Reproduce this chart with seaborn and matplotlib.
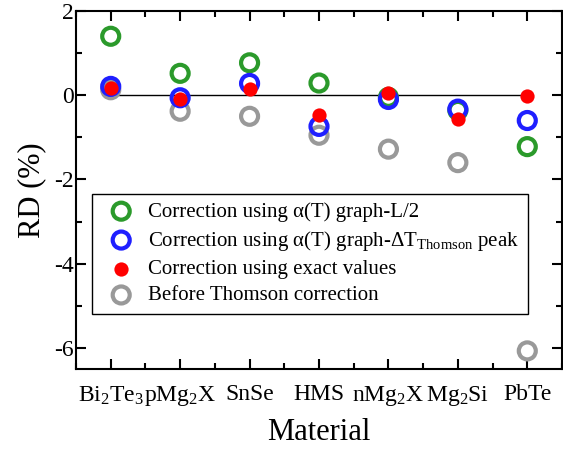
import numpy as np
import pandas as pd
import matplotlib
matplotlib.use('Agg')
import matplotlib.pyplot as plt
import seaborn as sns

# Relative deviation of each material
materials = [r'Bi$_2$Te$_3$', r'pMg$_2$X', 'SnSe', 'HMS', r'nMg$_2$X', r'Mg$_2$Si', 'PbTe']
rd_half_length = [1.40, 0.52, 0.77, 0.29, -0.05, -0.36, -1.22]
rd_thomson_peak = [0.21, -0.06, 0.28, -0.74, -0.10, -0.33, -0.60]
rd_exact = [0.17, -0.10, 0.14, -0.48, 0.06, -0.57, -0.02]
rd_before = [0.13, -0.38, -0.50, -0.95, -1.28, -1.60, -6.07]

sns.set_style('ticks')
plt.rcParams['font.family'] = ['Liberation Serif', 'DejaVu Serif']
plt.rcParams['mathtext.fontset'] = 'custom'
plt.rcParams['mathtext.rm'] = 'Liberation Serif'
plt.rcParams['mathtext.it'] = 'Liberation Serif:italic'
plt.rcParams['axes.unicode_minus'] = False
for key in ['text.color', 'axes.labelcolor', 'xtick.color', 'ytick.color', 'axes.edgecolor']:
    plt.rcParams[key] = 'black'

fig = plt.figure(figsize=(5.63, 4.53), dpi=100)
ax = fig.add_axes([76 / 563, 1 - 369 / 453, 486 / 563, 358 / 453])

ax.hlines(0, 0, len(materials) - 1, color='black', linewidth=1.0, zorder=1)


def open_circles(values, color, label):
    sns.scatterplot(x=materials, y=values, ax=ax, s=150, facecolor='none',
                    edgecolor=color, linewidth=3.0, zorder=3, label=label)


open_circles(rd_before, '#999999', 'Before Thomson correction')
open_circles(rd_half_length, '#2b9a2b', 'Correction using α(T) graph-L/2')
open_circles(rd_thomson_peak, '#1f1fff',
             r'Correction using α(T) graph-ΔT$_{\mathrm{Thomson}}$ peak')
sns.scatterplot(x=materials, y=rd_exact, color='#ff0000', ax=ax, s=105, linewidth=0,
                zorder=4, label='Correction using exact values')

ax.set_xlim(-0.5, 6.5)
ax.set_ylim(-6.5, 2)
ax.set_yticks([2, 0, -2, -4, -6])
ax.set_yticks([1, -1, -3, -5], minor=True)
ax.set_xticks(np.arange(-0.5, 6.6, 1), minor=True)
ax.tick_params(which='both', direction='in', top=True, right=True, width=1.5)
ax.tick_params(which='major', length=7, labelsize=17)
ax.tick_params(axis='x', which='major', pad=11)
ax.tick_params(axis='y', which='major', pad=1.5)
ax.tick_params(which='minor', length=4)
for sp in ax.spines.values():
    sp.set_linewidth(1.5)

ax.set_xlabel('Material', fontsize=22, labelpad=7)
ax.set_ylabel('RD (%)', fontsize=22, labelpad=6)

handles, labels = ax.get_legend_handles_labels()
order = [1, 2, 3, 0]
leg = ax.legend([handles[i] for i in order], [labels[i] for i in order],
                loc='upper left', bbox_to_anchor=(0.033, 0.49), borderaxespad=0,
                fontsize=15, frameon=True, fancybox=False, edgecolor='black',
                framealpha=1, handletextpad=0.3, labelspacing=0.33)
leg.get_frame().set_linewidth(1.0)

fig.savefig('out.png', dpi=100)
